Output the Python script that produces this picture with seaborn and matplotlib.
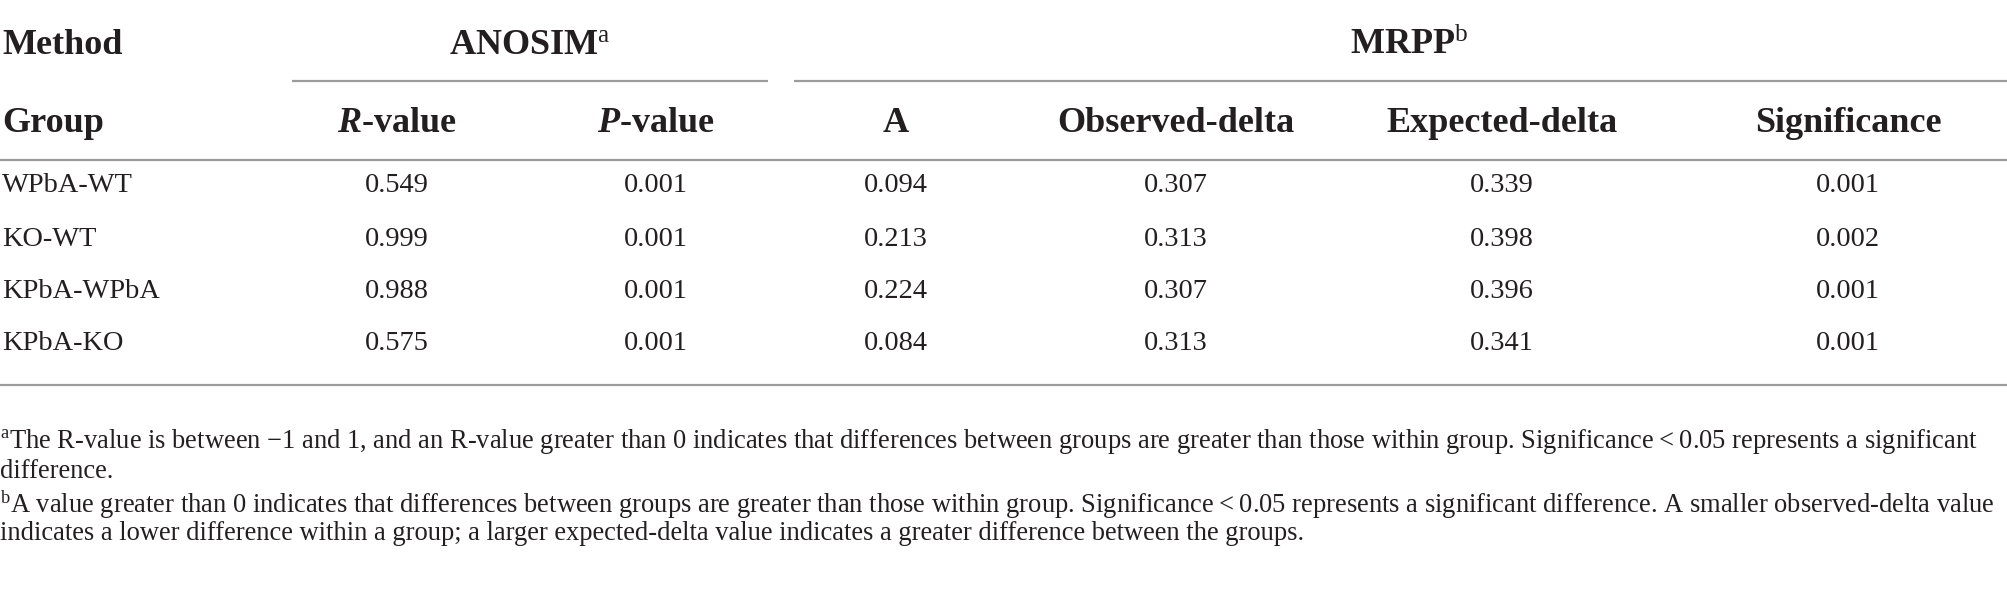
import seaborn as sns
import matplotlib.pyplot as plt

sns.set_style("white")
plt.rcParams['font.family'] = ['Liberation Serif', 'DejaVu Serif']
plt.rcParams['mathtext.fontset'] = 'custom'
plt.rcParams['mathtext.rm'] = 'Liberation Serif'
plt.rcParams['mathtext.it'] = 'Liberation Serif:italic'
plt.rcParams['mathtext.bf'] = 'Liberation Serif:bold'
plt.rcParams['mathtext.bfit'] = 'Liberation Serif:italic:bold'

# Table data
groups = ['WPbA-WT', 'KO-WT', 'KPbA-WPbA', 'KPbA-KO']
r_values = ['0.549', '0.999', '0.988', '0.575']
p_values = ['0.001', '0.001', '0.001', '0.001']
a_values = ['0.094', '0.213', '0.224', '0.084']
observed_delta = ['0.307', '0.313', '0.307', '0.313']
expected_delta = ['0.339', '0.398', '0.396', '0.341']
significance = ['0.001', '0.002', '0.001', '0.001']

col_headers = [r'$\mathbfit{R}$-value', r'$\mathbfit{P}$-value', 'A',
               'Observed-delta', 'Expected-delta', 'Significance']
footnote_a = [r'$^{\mathrm{a}}$' + 'The R-value is between \u22121 and 1, and an R-value greater than 0 '
              'indicates that differences between groups are greater than those within group. '
              'Significance\u2009<\u20090.05 represents a significant',
              'difference.']
footnote_b = [r'$^{\mathrm{b}}$' + 'A value greater than 0 indicates that differences between groups are '
              'greater than those within group. Significance\u2009<\u20090.05 represents a significant '
              'difference. A smaller observed-delta value',
              'indicates a lower difference within a group; a larger expected-delta value indicates '
              'a greater difference between the groups.']

columns = [r_values, p_values, a_values, observed_delta, expected_delta, significance]

W, H = 2008, 601
fig = plt.figure(figsize=(W / 100, H / 100), dpi=100)
ax = fig.add_axes([0, 0, 1, 1])
ax.set_xlim(0, W)
ax.set_ylim(H, 0)
ax.axis('off')

txt = '#231f20'
line_c = '#9b9b9b'
col_x = [397, 656, 896, 1176, 1502, 1848]
row_y = [186, 239, 291, 344]
hdr_fs, body_fs, foot_fs = 26, 20.4, 19.1

# header rows
ax.text(2, 45, 'Method', fontsize=hdr_fs, fontweight='bold', color=txt, va='center', ha='left')
ax.text(530, 45, r'ANOSIM$^{\mathrm{a}}$', fontsize=hdr_fs, fontweight='bold', color=txt,
        va='center', ha='center')
ax.text(1409, 45, r'MRPP$^{\mathrm{b}}$', fontsize=hdr_fs, fontweight='bold', color=txt,
        va='center', ha='center')
ax.hlines(81, 292, 768, color=line_c, lw=1.6)
ax.hlines(81, 794, W, color=line_c, lw=1.6)

ax.text(2, 123, 'Group', fontsize=hdr_fs, fontweight='bold', color=txt, va='center', ha='left')
for x, lab in zip(col_x, col_headers):
    ax.text(x, 123, lab, fontsize=hdr_fs, fontweight='bold', color=txt, va='center', ha='center')
ax.hlines(160, 0, W, color=line_c, lw=1.6)

# body
for y, g in zip(row_y, groups):
    ax.text(2, y, g, fontsize=body_fs, color=txt, va='center', ha='left')
for x, vals in zip(col_x, columns):
    for y, v in zip(row_y, vals):
        ax.text(x, y, v, fontsize=body_fs, color=txt, va='center', ha='center')
ax.hlines(385, 0, W, color=line_c, lw=1.6)

# footnotes
for y, line in zip([442, 472], footnote_a):
    ax.text(0, y, line, fontsize=foot_fs, color=txt, va='center', ha='left')
for y, line in zip([505, 534], footnote_b):
    ax.text(0, y, line, fontsize=foot_fs, color=txt, va='center', ha='left')

fig.savefig('out.png', dpi=100, facecolor='white')
plt.close(fig)
